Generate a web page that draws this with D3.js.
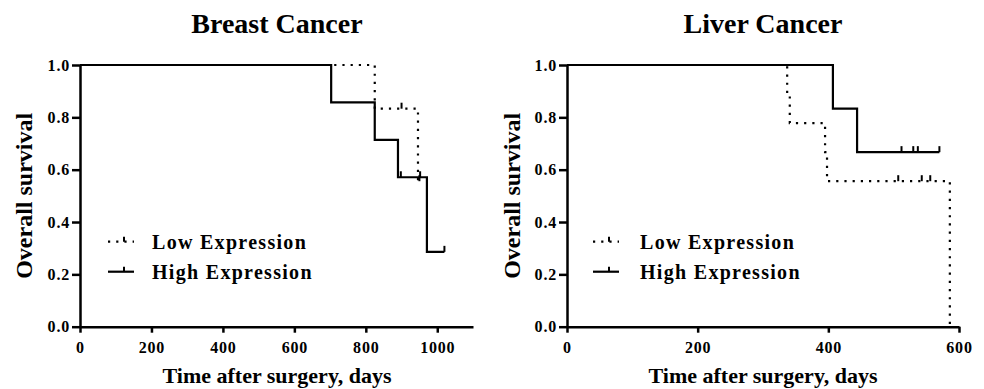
<!DOCTYPE html>
<meta charset="utf-8">
<style>
body { margin: 0; background: #fff; }
svg { font-family: "Liberation Serif", "Times New Roman", serif; font-weight: bold; }
.axis path, .axis line { stroke: #000; stroke-width: 2.5px; }
.axis text { font-family: "Liberation Serif", "Times New Roman", serif; font-size: 16px; font-weight: bold; fill: #000; letter-spacing: 0.8px; }
.km { fill: none; stroke: #000; stroke-width: 2.2px; }
.km.low { stroke-dasharray: 2.2 6; }
.cens { stroke: #000; stroke-width: 2px; }
</style>
<svg width="984" height="389"></svg>
<script src="https://cdn.jsdelivr.net/npm/d3@7"></script>
<script>

// breast cancer
var breastLowTimes = [0, 825, 946, 950],
    breastLowSurv = [1, 0.833, 0.556, 0.556],
    breastLowCens = [[900, 0.833], [950, 0.556]];
var breastHighTimes = [0, 703, 825, 890, 971, 1020],
    breastHighSurv = [1, 0.857, 0.714, 0.571, 0.286, 0.286],
    breastHighCens = [[898, 0.571], [952, 0.571], [1020, 0.286]];

// liver cancer
var liverLowTimes = [0, 337, 341, 395, 398, 586],
    liverLowSurv = [1, 0.889, 0.778, 0.667, 0.556, 0],
    liverLowCens = [[507, 0.556], [543, 0.556], [556, 0.556]];
var liverHighTimes = [0, 407, 444, 570],
    liverHighSurv = [1, 0.833, 0.667, 0.667],
    liverHighCens = [[512, 0.667], [530, 0.667], [537, 0.667], [570, 0.667]];

var yTicks = [0, 0.2, 0.4, 0.6, 0.8, 1.0];
var legendLabels = ["Low Expression", "High Expression"];

var svg = d3.select("svg");

var panels = [
  { title: "Breast Cancer", x0: 80, x1: 473, xMax: 1100, xTicks: [0, 200, 400, 600, 800, 1000],
    cx: 277, ytx: 24, legX: 108, legTx: 152,
    low: [breastLowTimes, breastLowSurv, breastLowCens],
    high: [breastHighTimes, breastHighSurv, breastHighCens] },
  { title: "Liver Cancer", x0: 567, x1: 959, xMax: 600, xTicks: [0, 200, 400, 600],
    cx: 763, ytx: 512, legX: 593, legTx: 640,
    low: [liverLowTimes, liverLowSurv, liverLowCens],
    high: [liverHighTimes, liverHighSurv, liverHighCens] }
];

var y = d3.scaleLinear().domain([0, 1]).range([326.7, 65]);

panels.forEach(function(p) {
  var x = d3.scaleLinear().domain([0, p.xMax]).range([p.x0, p.x1]);
  var g = svg.append("g");

  g.append("text")
      .attr("x", p.cx).attr("y", 33)
      .attr("text-anchor", "middle")
      .style("font-size", "28px")
      .text(p.title);

  g.append("g")
      .attr("class", "axis")
      .attr("transform", "translate(0," + y(0) + ")")
      .call(d3.axisBottom(x).tickValues(p.xTicks).tickFormat(d3.format("d"))
        .tickSize(6).tickSizeOuter(0).tickPadding(9))
    .selectAll("text").attr("dy", "0.71em");

  g.append("g")
      .attr("class", "axis")
      .attr("transform", "translate(" + p.x0 + ",0)")
      .call(d3.axisLeft(y).tickValues(yTicks).tickFormat(d3.format(".1f")).tickSize(8).tickSizeOuter(0).tickPadding(2));

  g.append("text")
      .attr("transform", "translate(" + p.ytx + "," + y(0.5) + ") rotate(-90)")
      .attr("text-anchor", "middle")
      .attr("dy", "0.35em")
      .style("font-size", "24px")
      .text("Overall survival");

  g.append("text")
      .attr("x", p.cx).attr("y", 383)
      .attr("text-anchor", "middle")
      .style("font-size", "22px")
      .text("Time after surgery, days");

  var line = d3.line()
      .x(function(d) { return x(d[0]); })
      .y(function(d) { return y(d[1]); })
      .curve(d3.curveStepAfter);

  [["low", p.low], ["high", p.high]].forEach(function(s) {
    var pts = s[1][0].map(function(t, i) { return [t, s[1][1][i]]; });
    g.append("path").attr("class", "km " + s[0]).attr("d", line(pts));
    g.selectAll(null).data(s[1][2]).enter().append("line")
        .attr("class", "cens")
        .attr("x1", function(d) { return x(d[0]); })
        .attr("x2", function(d) { return x(d[0]); })
        .attr("y1", function(d) { return y(d[1]); })
        .attr("y2", function(d) { return y(d[1]) - 6; });
  });

  // legend
  legendLabels.forEach(function(lab, i) {
    var ly = 241.7 + i * 30;
    g.append("line")
        .attr("class", "km " + (i === 0 ? "low" : "high"))
        .attr("x1", p.legX).attr("x2", p.legX + 26)
        .attr("y1", ly).attr("y2", ly);
    g.append("line").attr("class", "cens")
        .attr("x1", p.legX + 16).attr("x2", p.legX + 16)
        .attr("y1", ly).attr("y2", ly - 5);
    g.append("text")
        .attr("x", p.legTx).attr("y", ly + 6.8)
        .style("font-size", "20px")
        .style("letter-spacing", "1.3px")
        .text(lab);
  });
});

</script>
